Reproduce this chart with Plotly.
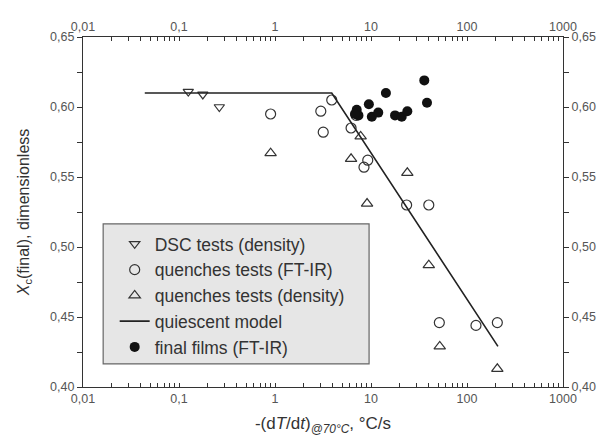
import plotly.graph_objects as go

# DSC tests (density)
dsc_x = [0.125, 0.177, 0.263]
dsc_y = [0.611, 0.609, 0.600]

# quenches tests (FT-IR)
qir_x = [0.90, 3.0, 3.18, 3.9, 6.2, 7.0, 8.45, 9.25, 23.5, 40.0, 51.5, 124.0, 207.0]
qir_y = [0.595, 0.597, 0.582, 0.605, 0.585, 0.594, 0.557, 0.562, 0.530, 0.530, 0.446, 0.444, 0.446]

# quenches tests (density)
qd_x = [0.90, 6.2, 7.8, 9.1, 23.9, 40.0, 52.0, 207.0]
qd_y = [0.567, 0.563, 0.579, 0.531, 0.553, 0.487, 0.429, 0.413]

# quiescent model
model_x = [0.044, 3.9, 210.0]
model_y = [0.610, 0.610, 0.429]

# final films (FT-IR)
ff_x = [35.9, 38.3, 14.3, 9.5, 7.1, 7.4, 10.2, 11.9, 17.8, 20.9, 23.9, 6.8]
ff_y = [0.619, 0.603, 0.610, 0.602, 0.598, 0.594, 0.593, 0.596, 0.594, 0.593, 0.597, 0.595]

x_major = [0.01, 0.1, 1, 10, 100, 1000]
x_major_text = ["0,01", "0,1", "1", "10", "100", "1000"]
y_major = [0.40, 0.45, 0.50, 0.55, 0.60, 0.65]
y_major_text = ["0,40", "0,45", "0,50", "0,55", "0,60", "0,65"]

# unlabelled ticks: 2..9 in every decade, and half steps on y
x_minor = [m * d for d in [0.01, 0.1, 1, 10, 100] for m in range(2, 10)]
y_minor = [0.425, 0.475, 0.525, 0.575, 0.625]

x_tickvals = x_major + x_minor
x_ticktext = x_major_text + [""] * len(x_minor)
y_tickvals = y_major + y_minor
y_ticktext = y_major_text + [""] * len(y_minor)

font = "Liberation Sans, Arial, sans-serif"
mk_line = {"width": 1.2, "color": "#333333"}

fig = go.Figure()

fig.add_trace(go.Scatter(
    x=dsc_x, y=dsc_y, mode="markers", name="DSC tests (density)",
    marker={"symbol": "triangle-down-open", "size": 9, "color": "#333333", "line": mk_line},
))
fig.add_trace(go.Scatter(
    x=qir_x, y=qir_y, mode="markers", name="quenches tests (FT-IR)",
    marker={"symbol": "circle-open", "size": 10, "color": "#333333", "line": mk_line},
))
fig.add_trace(go.Scatter(
    x=qd_x, y=qd_y, mode="markers", name="quenches tests (density)",
    marker={"symbol": "triangle-up-open", "size": 10, "color": "#333333", "line": mk_line},
))
fig.add_trace(go.Scatter(
    x=model_x, y=model_y, mode="lines", name="quiescent model",
    line={"color": "#222222", "width": 1.6},
))
fig.add_trace(go.Scatter(
    x=ff_x, y=ff_y, mode="markers", name="final films (FT-IR)",
    marker={"symbol": "circle", "size": 10, "color": "#111111"},
))
# empty trace so the top / right axes get drawn
fig.add_trace(go.Scatter(x=[], y=[], xaxis="x2", yaxis="y2", showlegend=False))

axis_common = dict(
    showgrid=False, zeroline=False, showline=True, linecolor="#333333", linewidth=1.2,
    tickcolor="#333333", tickwidth=1, automargin=False,
    tickfont={"family": font, "size": 12.5, "color": "#555555"},
)
x_common = dict(
    type="log", range=[-2, 3], tickmode="array", tickvals=x_tickvals, ticktext=x_ticktext,
    ticks="inside", ticklen=4, **axis_common,
)
y_common = dict(
    range=[0.40, 0.65], tickmode="array", tickvals=y_tickvals, ticktext=y_ticktext,
    ticks="outside", ticklen=5, **axis_common,
)

# the page body has an 8px margin, so the figure is 8px smaller than the window
fig.update_layout(
    width=604, height=431,
    margin={"l": 75, "r": 49, "t": 29, "b": 52},
    paper_bgcolor="white", plot_bgcolor="white",
    font={"family": font, "color": "#333333"},
    xaxis=dict(
        title={"text": "-(d<i>T</i>/d<i>t</i>)<sub><i>@70°C</i></sub>, °C/s",
               "font": {"family": font, "size": 17, "color": "#333333"}, "standoff": 12},
        **x_common,
    ),
    yaxis=dict(
        title={"text": "<i>X</i><sub>c</sub>(final), dimensionless",
               "font": {"family": font, "size": 16, "color": "#333333"}, "standoff": 16},
        **y_common,
    ),
    xaxis2=dict(overlaying="x", side="top", anchor="y", **x_common),
    yaxis2=dict(overlaying="y", side="right", anchor="x", **y_common),
    legend={
        "x": 0.066, "y": 0.46, "xanchor": "left", "yanchor": "top",
        "bgcolor": "rgba(0,0,0,0)", "borderwidth": 0,
        "font": {"family": font, "size": 17.5, "color": "#333333"},
        "tracegroupgap": 0,
    },
    shapes=[{
        "type": "rect", "xref": "paper", "yref": "paper",
        "x0": 0.042, "x1": 0.596, "y0": 0.066, "y1": 0.466,
        "fillcolor": "#e6e6e6", "line": {"color": "#666666", "width": 1.2},
        "layer": "below",
    }],
)

fig.write_html("out.html")
